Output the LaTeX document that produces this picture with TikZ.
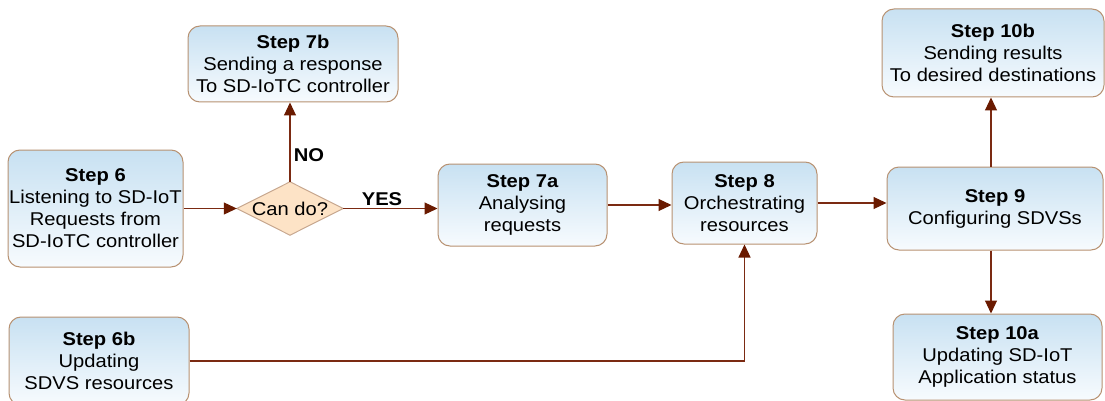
\documentclass[tikz,border=0pt]{standalone}
\usepackage{fontspec}
\setmainfont{Liberation Sans}[FakeStretch=1.09]
\usetikzlibrary{arrows.meta}

\definecolor{boxedge}{RGB}{184,146,114}
\definecolor{boxtop}{RGB}{200,225,242}
\definecolor{boxbot}{RGB}{247,251,254}
\definecolor{linkcol}{RGB}{123,42,18}
\definecolor{tipcol}{RGB}{106,26,0}
\definecolor{decfill}{RGB}{253,227,198}
\definecolor{decedge}{RGB}{200,168,144}

\tikzset{
  stepbox/.style={draw=boxedge, line width=1pt, rounded corners=12pt,
    top color=boxtop, bottom color=boxbot, align=center, inner sep=0pt,
    font=\fontsize{18.5}{22}\selectfont},
  decision/.style={inner sep=0pt, font=\fontsize{18.5}{22}\selectfont},
  link/.style={draw=linkcol, line width=1.1pt,
    -{Triangle[length=13pt,width=12pt,fill=tipcol,color=tipcol]}},
  tag/.style={font=\bfseries\fontsize{18.5}{22}\selectfont, inner sep=0pt}
}

\begin{document}
\begin{tikzpicture}[x=1pt,y=-1pt]
\useasboundingbox[fill=white] (0,0) rectangle (1105,401);

% process steps
\node[stepbox, minimum width=175pt, minimum height=117pt] (s6) at (95.5,208.5)
  {\textbf{Step 6}\\Listening to SD-IoT\\Requests from\\SD-IoTC controller};
\node[stepbox, minimum width=210pt, minimum height=76pt] (s7b) at (293,64)
  {\textbf{Step 7b}\\Sending a response\\To SD-IoTC controller};
\node[stepbox, minimum width=169pt, minimum height=82pt] (s7a) at (522.5,205)
  {\textbf{Step 7a}\\Analysing\\requests};
\node[stepbox, minimum width=145pt, minimum height=82pt] (s8) at (744.5,203)
  {\textbf{Step 8}\\Orchestrating\\resources};
\node[stepbox, minimum width=216pt, minimum height=83pt] (s9) at (995,208.5)
  {\textbf{Step 9}\\Configuring SDVSs};
\node[stepbox, minimum width=222pt, minimum height=88pt] (s10b) at (993,53)
  {\textbf{Step 10b}\\Sending results\\To desired destinations};
\node[stepbox, minimum width=209pt, minimum height=86pt] (s10a) at (997.5,357)
  {\textbf{Step 10a}\\Updating SD-IoT\\Application status};
\node[stepbox, minimum width=180pt, minimum height=88pt] (s6b) at (99,361)
  {\textbf{Step 6b}\\Updating\\SDVS resources};

% decision: a flat diamond spanning the node's box
\node[decision, minimum width=106pt, minimum height=53pt] (can) at (290,208.5) {};
\draw[draw=decedge, line width=1pt, fill=decfill]
  (can.west) -- (can.north) -- (can.east) -- (can.south) -- cycle;
\node[decision] at (can.center) {Can do?};

% connectors
\draw[link] (s6.east) -- (can.west);
\draw[link] (can.north) -- (can.north |- s7b.south);
\draw[link] (can.east) -- (s7a.west |- can.east);
\draw[link] (s7a.east) -- (s8.west |- s7a.east);
\draw[link] (s8.east) -- (s9.west |- s8.east);
\draw[link] ([xshift=-4pt]s9.north) -- ([xshift=-4pt]s9.north |- s10b.south);
\draw[link] ([xshift=-4pt]s9.south) -- ([xshift=-4pt]s9.south |- s10a.north);
\draw[link] (s6b.east) -| (s8.south);

% branch labels
\node[tag] (no) at (309,155) {NO};
\node[tag] (yes) at (382,199) {YES};
\end{tikzpicture}
\end{document}
